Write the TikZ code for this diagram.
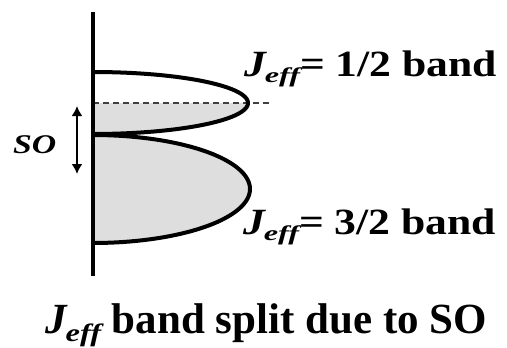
\documentclass[tikz,border=0pt]{standalone}
\usepackage{fontspec}
\usepackage{graphicx}
\setmainfont{Liberation Serif}
\usetikzlibrary{arrows.meta}
% #1 size of J, #2 size of eff, #3 lowering of eff, #4 horizontal stretch of eff
\newcommand{\jeff}[4]{{\fontsize{#1}{#1}\selectfont\bfseries\itshape J}\kern-1pt\raisebox{-#3pt}{\scalebox{#4}[1]{\fontsize{#2}{#2}\selectfont\bfseries\itshape eff}}}
\tikzset{
  band/.style={line width=4pt, black},
  bandfill/.style={fill=black!13},
  lbl/.style={inner sep=0pt, anchor=base west},
}
\begin{document}
\begin{tikzpicture}[x=1pt,y=-1pt]
\useasboundingbox (0,0) rectangle (507,348);
% fills
\fill[bandfill] (93,103) -- plot[domain=0:90,samples=60] ({93+155*cos(\x)},{103+31*sin(\x)}) -- cycle;
\fill[bandfill] plot[domain=-90:90,samples=80] ({93+157*cos(\x)},{189+54*sin(\x)}) -- cycle;
% dashed Fermi level
\coordinate (dl) at (93,103);
\coordinate (dr) at (272,103);
\draw[black!75, line width=1.6pt, dash pattern=on 6pt off 4pt] (dl) -- (dr);
% band outlines
\draw[band] plot[domain=-90:90,samples=80] ({93+155*cos(\x)},{103+31*sin(\x)});
\draw[band] plot[domain=-90:90,samples=80] ({93+157*cos(\x)},{189+54*sin(\x)});
% axis
\coordinate (at) at (93,12);
\coordinate (ab) at (93,276);
\draw[line width=4pt] (at) -- (ab);
% SO arrow
\coordinate (st) at (77,106);
\coordinate (sb) at (77,174);
\draw[line width=2.6pt, {Latex[length=10pt,width=11pt]}-{Latex[length=10pt,width=11pt]}] (st) -- (sb);
\node[lbl] (so) at (13,153) {\scalebox{1.25}[1]{\fontsize{27}{27}\selectfont\bfseries\itshape SO}};
% labels
\node[lbl] (l1) at (244,76) {\scalebox{1.18}[1]{\jeff{37}{21}{6}{1.3}\fontsize{37}{37}\selectfont\bfseries = 1/2 band}};
\node[lbl] (l2) at (243,234) {\scalebox{1.18}[1]{\jeff{37}{21}{6}{1.3}\fontsize{37}{37}\selectfont\bfseries = 3/2 band}};
\node[lbl] (cap) at (45,333) {\jeff{43}{25}{8}{1.3}\fontsize{43}{43}\selectfont\bfseries\ band split due to SO};
\end{tikzpicture}
\end{document}
